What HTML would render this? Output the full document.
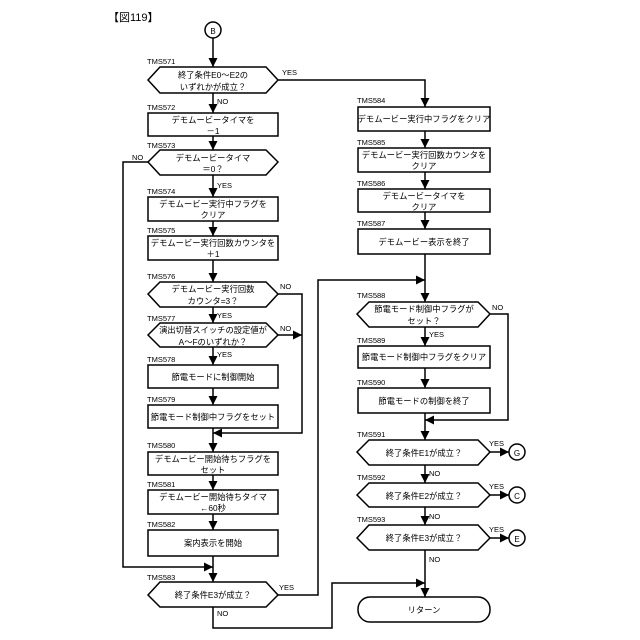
<!DOCTYPE html>
<html><head><meta charset="utf-8"><style>
html,body{margin:0;padding:0;background:#fff}
svg{display:block}
text{font-family:"Liberation Sans","Noto Sans CJK JP",sans-serif;fill:#000}
.l{font-size:7.5px}
.t{font-size:8.3px;text-anchor:middle}
.s{stroke:#000;stroke-width:1.5;fill:none}
.b{stroke:#000;stroke-width:1.5;fill:#fff}
</style></head><body>
<svg width="640" height="640" viewBox="0 0 640 640" xmlns="http://www.w3.org/2000/svg">
<defs><marker id="a" viewBox="0 0 10 10" refX="10" refY="5" markerWidth="6" markerHeight="6" orient="auto"><path d="M0,0L10,5L0,10z" fill="#000"/></marker></defs>
<text x="108" y="21" style="font-size:11px">【図119】</text>

<circle cx="213" cy="30" r="8" class="b"/><text x="213" y="34" class="t" style="font-size:8px">B</text>
<line x1="213" y1="38" x2="213" y2="67" class="s" marker-end="url(#a)"/>
<line x1="213" y1="93" x2="213" y2="113" class="s" marker-end="url(#a)"/>
<line x1="213" y1="136" x2="213" y2="150" class="s" marker-end="url(#a)"/>
<line x1="213" y1="175" x2="213" y2="197" class="s" marker-end="url(#a)"/>
<line x1="213" y1="221" x2="213" y2="236" class="s" marker-end="url(#a)"/>
<line x1="213" y1="260" x2="213" y2="282" class="s" marker-end="url(#a)"/>
<line x1="213" y1="307" x2="213" y2="323" class="s" marker-end="url(#a)"/>
<line x1="213" y1="347" x2="213" y2="365" class="s" marker-end="url(#a)"/>
<line x1="213" y1="388" x2="213" y2="405" class="s" marker-end="url(#a)"/>
<line x1="213" y1="428" x2="213" y2="452" class="s" marker-end="url(#a)"/>
<line x1="213" y1="475" x2="213" y2="490" class="s" marker-end="url(#a)"/>
<line x1="213" y1="514" x2="213" y2="530" class="s" marker-end="url(#a)"/>
<line x1="213" y1="556" x2="213" y2="582" class="s" marker-end="url(#a)"/>
<polyline points="148,162 123,162 123,567 213,567" class="s" marker-end="url(#a)"/>
<polyline points="278,294 302,294 302,433 213,433" class="s" marker-end="url(#a)"/>
<line x1="278" y1="335" x2="302" y2="335" class="s" marker-end="url(#a)"/>
<polyline points="278,80 425,80 425,107" class="s" marker-end="url(#a)"/>
<polyline points="278,595 318,595 318,280 425,280" class="s" marker-end="url(#a)"/>
<polyline points="213,607 213,628 332,628 332,583 425,583" class="s" marker-end="url(#a)"/>

<line x1="425" y1="131" x2="425" y2="148" class="s" marker-end="url(#a)"/>
<line x1="425" y1="172" x2="425" y2="189" class="s" marker-end="url(#a)"/>
<line x1="425" y1="212" x2="425" y2="229" class="s" marker-end="url(#a)"/>
<line x1="425" y1="254" x2="425" y2="302" class="s" marker-end="url(#a)"/>
<line x1="425" y1="327" x2="425" y2="346" class="s" marker-end="url(#a)"/>
<line x1="425" y1="368" x2="425" y2="388" class="s" marker-end="url(#a)"/>
<line x1="425" y1="413" x2="425" y2="440" class="s" marker-end="url(#a)"/>
<line x1="425" y1="465" x2="425" y2="483" class="s" marker-end="url(#a)"/>
<line x1="425" y1="507" x2="425" y2="525" class="s" marker-end="url(#a)"/>
<line x1="425" y1="550" x2="425" y2="597" class="s" marker-end="url(#a)"/>
<polyline points="490,314 508,314 508,420 425,420" class="s" marker-end="url(#a)"/>
<line x1="490" y1="452" x2="509" y2="452" class="s" marker-end="url(#a)"/>
<line x1="490" y1="495" x2="509" y2="495" class="s" marker-end="url(#a)"/>
<line x1="490" y1="538" x2="509" y2="538" class="s" marker-end="url(#a)"/>
<circle cx="517" cy="452" r="8" class="b"/><text x="517" y="456" class="t" style="font-size:8px">G</text>
<circle cx="517" cy="495" r="8" class="b"/><text x="517" y="499" class="t" style="font-size:8px">C</text>
<circle cx="517" cy="538" r="8" class="b"/><text x="517" y="542" class="t" style="font-size:8px">E</text>

<text x="147" y="64" class="l">TMS571</text>
<polygon points="148,80 160,67 266,67 278,80 266,93 160,93" class="b"/>
<text x="213" y="78" class="t">終了条件E0～E2の</text><text x="213" y="90" class="t">いずれかが成立？</text>
<text x="282" y="75" class="l">YES</text><text x="217" y="104" class="l">NO</text>

<text x="147" y="110" class="l">TMS572</text>
<rect x="148" y="113" width="130" height="23" class="b"/>
<text x="213" y="123" class="t">デモムービータイマを</text><text x="213" y="134" class="t">－1</text>

<text x="147" y="148" class="l">TMS573</text>
<polygon points="148,162 160,150 266,150 278,162 266,175 160,175" class="b"/>
<text x="213" y="161" class="t">デモムービータイマ</text><text x="213" y="172" class="t">＝0？</text>
<text x="132" y="160" class="l">NO</text><text x="217" y="188" class="l">YES</text>

<text x="147" y="194" class="l">TMS574</text>
<rect x="148" y="197" width="130" height="24" class="b"/>
<text x="213" y="207" class="t">デモムービー実行中フラグを</text><text x="213" y="218" class="t">クリア</text>

<text x="147" y="233" class="l">TMS575</text>
<rect x="148" y="236" width="130" height="24" class="b"/>
<text x="213" y="246" class="t">デモムービー実行回数カウンタを</text><text x="213" y="257" class="t">＋1</text>

<text x="147" y="279" class="l">TMS576</text>
<polygon points="148,294 160,282 266,282 278,294 266,307 160,307" class="b"/>
<text x="213" y="292" class="t">デモムービー実行回数</text><text x="213" y="304" class="t">カウンタ=3？</text>
<text x="280" y="289" class="l">NO</text><text x="217" y="318" class="l">YES</text>

<text x="147" y="321" class="l">TMS577</text>
<polygon points="148,335 160,323 266,323 278,335 266,347 160,347" class="b"/>
<text x="213" y="333" class="t">演出切替スイッチの設定値が</text><text x="213" y="345" class="t">A～Fのいずれか？</text>
<text x="280" y="331" class="l">NO</text><text x="217" y="357" class="l">YES</text>

<text x="147" y="362" class="l">TMS578</text>
<rect x="148" y="365" width="130" height="23" class="b"/>
<text x="213" y="380" class="t">節電モードに制御開始</text>

<text x="147" y="402" class="l">TMS579</text>
<rect x="148" y="405" width="130" height="23" class="b"/>
<text x="213" y="420" class="t">節電モード制御中フラグをセット</text>

<text x="147" y="448" class="l">TMS580</text>
<rect x="148" y="452" width="130" height="23" class="b"/>
<text x="213" y="462" class="t">デモムービー開始待ちフラグを</text><text x="213" y="473" class="t">セット</text>

<text x="147" y="487" class="l">TMS581</text>
<rect x="148" y="490" width="130" height="24" class="b"/>
<text x="213" y="500" class="t">デモムービー開始待ちタイマ</text><text x="213" y="511" class="t">←60秒</text>

<text x="147" y="527" class="l">TMS582</text>
<rect x="148" y="530" width="130" height="26" class="b"/>
<text x="213" y="546" class="t">案内表示を開始</text>

<text x="147" y="580" class="l">TMS583</text>
<polygon points="148,595 160,582 266,582 278,595 266,607 160,607" class="b"/>
<text x="213" y="598" class="t">終了条件E3が成立？</text>
<text x="279" y="590" class="l">YES</text><text x="217" y="616" class="l">NO</text>

<text x="357" y="103" class="l">TMS584</text>
<rect x="358" y="107" width="132" height="24" class="b"/>
<text x="424" y="122" class="t">デモムービー実行中フラグをクリア</text>

<text x="357" y="145" class="l">TMS585</text>
<rect x="358" y="148" width="132" height="24" class="b"/>
<text x="424" y="158" class="t">デモムービー実行回数カウンタを</text><text x="424" y="169" class="t">クリア</text>

<text x="357" y="186" class="l">TMS586</text>
<rect x="358" y="189" width="132" height="23" class="b"/>
<text x="424" y="199" class="t">デモムービータイマを</text><text x="424" y="210" class="t">クリア</text>

<text x="357" y="226" class="l">TMS587</text>
<rect x="358" y="229" width="132" height="25" class="b"/>
<text x="424" y="245" class="t">デモムービー表示を終了</text>

<text x="357" y="298" class="l">TMS588</text>
<polygon points="357,314 369,302 478,302 490,314 478,327 369,327" class="b"/>
<text x="424" y="312" class="t">節電モード制御中フラグが</text><text x="424" y="324" class="t">セット？</text>
<text x="492" y="310" class="l">NO</text><text x="429" y="337" class="l">YES</text>

<text x="357" y="343" class="l">TMS589</text>
<rect x="358" y="346" width="132" height="22" class="b"/>
<text x="424" y="360" class="t">節電モード制御中フラグをクリア</text>

<text x="357" y="385" class="l">TMS590</text>
<rect x="358" y="388" width="132" height="25" class="b"/>
<text x="424" y="404" class="t">節電モードの制御を終了</text>

<text x="357" y="437" class="l">TMS591</text>
<polygon points="357,452 369,440 478,440 490,452 478,465 369,465" class="b"/>
<text x="424" y="456" class="t">終了条件E1が成立？</text>
<text x="489" y="446" class="l">YES</text><text x="429" y="476" class="l">NO</text>

<text x="357" y="480" class="l">TMS592</text>
<polygon points="357,495 369,483 478,483 490,495 478,507 369,507" class="b"/>
<text x="424" y="499" class="t">終了条件E2が成立？</text>
<text x="489" y="489" class="l">YES</text><text x="429" y="519" class="l">NO</text>

<text x="357" y="522" class="l">TMS593</text>
<polygon points="357,538 369,525 478,525 490,538 478,550 369,550" class="b"/>
<text x="424" y="541" class="t">終了条件E3が成立？</text>
<text x="489" y="532" class="l">YES</text><text x="429" y="562" class="l">NO</text>

<rect x="358" y="597" width="132" height="25" rx="12" ry="12" class="b"/>
<text x="424" y="613" class="t">リターン</text>
</svg>
</body></html>
